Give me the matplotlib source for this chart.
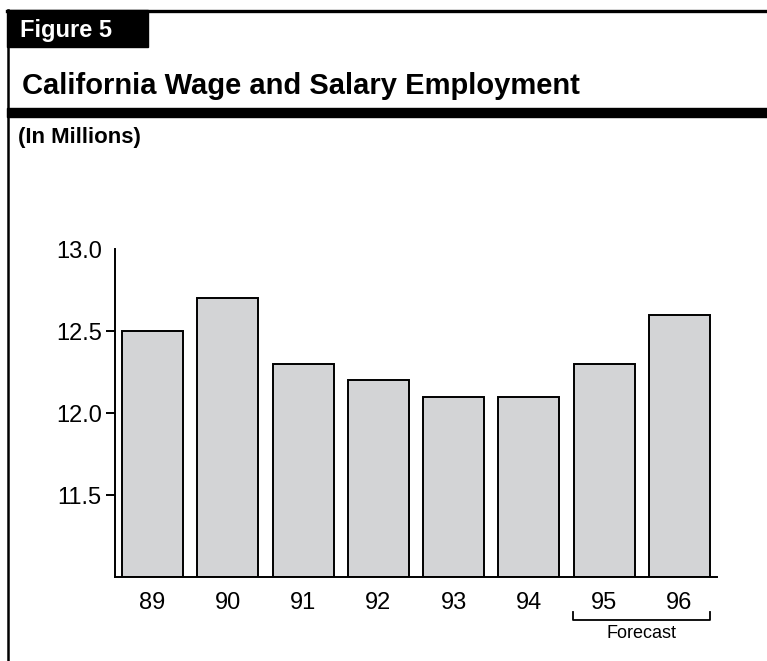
import matplotlib
matplotlib.use("Agg")
import matplotlib.pyplot as plt
from matplotlib.patches import Rectangle
from matplotlib.lines import Line2D

plt.rcParams['font.family'] = ['Liberation Sans', 'DejaVu Sans']

# data
years = ["89", "90", "91", "92", "93", "94", "95", "96"]
employment = [12.5, 12.7, 12.3, 12.2, 12.1, 12.1, 12.3, 12.6]
y_ticks = [11.5, 12.0, 12.5, 13.0]
forecast_years = ["95", "96"]

W, H = 767, 661
fig = plt.figure(figsize=(W / 100, H / 100), dpi=100)

def fx(px):
    return px / W

def fy(py):
    return 1 - py / H

# frame lines and header blocks
fig.add_artist(Line2D([fx(7), 1], [fy(10.5), fy(10.5)], color="black", lw=2.4))
fig.add_artist(Line2D([fx(8), fx(8)], [fy(10), 0], color="black", lw=1.8))
fig.add_artist(Rectangle((fx(7), fy(47)), fx(141), fy(10) - fy(47), color="black"))
fig.add_artist(Rectangle((fx(7), fy(117)), 1, fy(108) - fy(117), color="black"))

fig.text(fx(20), fy(31), "Figure 5", color="white", fontsize=17, fontweight="bold", va="center")
fig.text(fx(22), fy(86), "California Wage and Salary Employment", fontsize=21,
         fontweight="bold", va="center")
fig.text(fx(18), fy(138), "(In Millions)", fontsize=16, fontweight="bold", va="center")

# chart
ax = fig.add_axes([fx(115), fy(577), fx(602), fy(249) - fy(577)])
x = range(len(years))
ax.bar(x, [v - 11.0 for v in employment], bottom=11.0, width=0.81,
       color="#d3d4d6", edgecolor="black", linewidth=1.4)
ax.set_xlim(-0.5, 7.5)
ax.set_ylim(11.0, 13.0)
ax.set_yticks(y_ticks)
ax.set_yticklabels([f"{t:.1f}" for t in y_ticks], fontsize=17)
ax.set_xticks(list(x))
ax.set_xticklabels(years, fontsize=17)
ax.tick_params(axis="x", length=0, pad=11)
ax.tick_params(axis="y", length=6.5, width=1.4, pad=3)
ax.yaxis.get_major_ticks()[-1].tick1line.set_visible(False)
for s in ["top", "right"]:
    ax.spines[s].set_visible(False)
for s in ["left", "bottom"]:
    ax.spines[s].set_linewidth(1.4)

# forecast bracket
i0 = years.index(forecast_years[0])
i1 = years.index(forecast_years[-1])
bx0, bx1 = i0 - 0.41, i1 + 0.41
trans = ax.get_xaxis_transform()
yb_top = (577 - 612) / 328
yb_bot = (577 - 620) / 328
ax.plot([bx0, bx0, bx1, bx1], [yb_top, yb_bot, yb_bot, yb_top], color="black",
        lw=1.3, transform=trans, clip_on=False)
ax.text((bx0 + bx1) / 2, (577 - 633) / 328, "Forecast", fontsize=13,
        ha="center", va="center", transform=trans)

fig.savefig("out.png", dpi=100)
